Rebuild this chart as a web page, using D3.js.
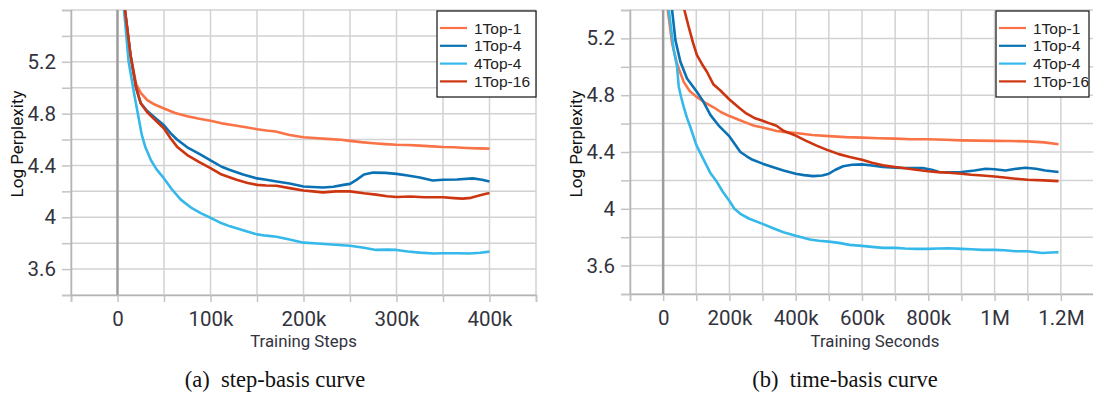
<!DOCTYPE html>
<html>
<head>
<meta charset="utf-8">
<script src="https://cdn.jsdelivr.net/npm/d3@7"></script>
<style>
  body { margin: 0; background: #fff; }
  svg { display: block; }
</style>
</head>
<body>
<svg id="chart" width="1093" height="394"></svg>
<script>
// series names and colours
const seriesNames = ["1Top-1", "1Top-4", "4Top-4", "1Top-16"];
const seriesColors = ["#fa7347", "#0a72b4", "#35b8ea", "#cc3510"];

// step-basis curves: [training steps (k), log perplexity]
const stepTop1 = [[3, 6.4], [8, 5.6], [14, 5.25], [20, 5.03], [25, 4.96], [32, 4.905], [40, 4.87], [50, 4.84], [62, 4.805], [75, 4.78], [88, 4.76], [100, 4.745], [112, 4.725], [125, 4.71], [138, 4.695], [150, 4.68], [160, 4.67], [170, 4.662], [185, 4.635], [200, 4.618], [212, 4.612], [225, 4.605], [240, 4.598], [250, 4.59], [262, 4.58], [275, 4.572], [288, 4.565], [300, 4.56], [312, 4.558], [325, 4.553], [338, 4.547], [350, 4.542], [362, 4.54], [375, 4.535], [388, 4.532], [400, 4.53]];
const stepTop4 = [[3, 6.4], [8, 5.6], [14, 5.25], [20, 5.0], [25, 4.88], [32, 4.82], [40, 4.77], [50, 4.71], [57, 4.65], [64, 4.6], [75, 4.54], [88, 4.49], [100, 4.44], [112, 4.39], [121, 4.365], [135, 4.33], [150, 4.3], [160, 4.29], [171, 4.276], [185, 4.26], [200, 4.238], [210, 4.234], [221, 4.23], [232, 4.236], [243, 4.25], [250, 4.258], [257, 4.289], [265, 4.33], [275, 4.345], [288, 4.343], [300, 4.335], [312, 4.322], [325, 4.307], [339, 4.284], [350, 4.29], [365, 4.292], [382, 4.3], [392, 4.29], [400, 4.276]];
const stepFour4 = [[3, 6.6], [7, 5.6], [12, 5.2], [18, 4.95], [26, 4.64], [30, 4.54], [36, 4.44], [42, 4.37], [50, 4.3], [58, 4.22], [68, 4.136], [80, 4.07], [90, 4.03], [100, 3.996], [110, 3.96], [121, 3.93], [135, 3.9], [150, 3.868], [160, 3.858], [171, 3.85], [185, 3.828], [200, 3.804], [215, 3.798], [230, 3.79], [250, 3.78], [265, 3.765], [278, 3.748], [290, 3.75], [300, 3.748], [312, 3.736], [325, 3.727], [340, 3.72], [350, 3.722], [365, 3.722], [378, 3.72], [390, 3.726], [400, 3.735]];
const stepTop16 = [[3, 6.4], [8, 5.6], [14, 5.25], [20, 5.0], [25, 4.88], [32, 4.81], [40, 4.755], [50, 4.685], [57, 4.61], [64, 4.545], [75, 4.48], [88, 4.425], [100, 4.38], [112, 4.33], [128, 4.29], [140, 4.265], [150, 4.25], [160, 4.245], [171, 4.243], [185, 4.225], [200, 4.207], [210, 4.2], [221, 4.192], [235, 4.2], [250, 4.2], [265, 4.185], [278, 4.175], [290, 4.162], [300, 4.157], [315, 4.16], [330, 4.155], [350, 4.154], [362, 4.148], [371, 4.144], [380, 4.15], [386, 4.162], [393, 4.175], [400, 4.187]];

// time-basis curves: [training seconds (k), log perplexity]
const timeTop1 = [[5, 6.2], [14, 5.4], [27, 5.165], [42, 5.02], [62, 4.894], [80, 4.83], [100, 4.79], [125, 4.75], [152, 4.715], [175, 4.68], [200, 4.653], [230, 4.625], [252, 4.605], [275, 4.585], [300, 4.572], [343, 4.548], [370, 4.54], [400, 4.534], [450, 4.52], [500, 4.512], [550, 4.505], [600, 4.501], [650, 4.497], [700, 4.494], [750, 4.49], [800, 4.49], [850, 4.486], [900, 4.482], [950, 4.48], [1000, 4.478], [1050, 4.477], [1100, 4.475], [1150, 4.468], [1193, 4.454]];
const timeTop4 = [[10, 6.2], [27, 5.4], [37, 5.188], [52, 5.035], [72, 4.918], [100, 4.83], [120, 4.76], [143, 4.66], [170, 4.58], [200, 4.51], [233, 4.4], [252, 4.37], [270, 4.345], [300, 4.318], [330, 4.295], [363, 4.27], [400, 4.247], [425, 4.237], [453, 4.23], [480, 4.235], [500, 4.247], [520, 4.275], [543, 4.3], [570, 4.31], [600, 4.313], [630, 4.305], [663, 4.294], [700, 4.29], [723, 4.287], [783, 4.287], [810, 4.275], [833, 4.259], [870, 4.257], [900, 4.259], [940, 4.27], [973, 4.282], [1000, 4.278], [1033, 4.27], [1060, 4.28], [1093, 4.289], [1125, 4.282], [1153, 4.27], [1193, 4.259]];
const timeFour4 = [[8, 6.2], [17, 5.4], [25, 5.25], [32, 5.118], [42, 5.0], [47, 4.86], [55, 4.78], [62, 4.718], [72, 4.64], [82, 4.576], [100, 4.45], [115, 4.38], [132, 4.3], [143, 4.25], [162, 4.19], [180, 4.12], [200, 4.055], [215, 4.0], [233, 3.965], [260, 3.93], [300, 3.894], [330, 3.865], [363, 3.835], [400, 3.81], [443, 3.784], [470, 3.775], [500, 3.769], [530, 3.76], [563, 3.746], [600, 3.739], [630, 3.732], [663, 3.725], [700, 3.725], [730, 3.72], [763, 3.718], [800, 3.718], [830, 3.72], [863, 3.722], [900, 3.718], [930, 3.715], [963, 3.711], [1000, 3.711], [1030, 3.708], [1063, 3.701], [1100, 3.701], [1143, 3.689], [1170, 3.692], [1193, 3.694]];
const timeTop16 = [[40, 6.2], [64, 5.4], [77, 5.282], [90, 5.17], [102, 5.082], [117, 5.02], [132, 4.965], [152, 4.875], [172, 4.835], [200, 4.77], [230, 4.71], [252, 4.67], [275, 4.64], [300, 4.62], [323, 4.6], [342, 4.585], [363, 4.55], [400, 4.515], [430, 4.48], [463, 4.445], [500, 4.41], [530, 4.385], [563, 4.365], [600, 4.346], [630, 4.325], [663, 4.306], [700, 4.294], [730, 4.285], [763, 4.275], [800, 4.264], [830, 4.258], [863, 4.254], [900, 4.247], [930, 4.24], [963, 4.235], [1000, 4.228], [1030, 4.22], [1063, 4.212], [1100, 4.205], [1150, 4.2], [1193, 4.195]];

// tick values
const stepTickLabels = [0, 100, 200, 300, 400];
const timeTickLabels = [0, 200, 400, 600, 800, 1000, 1200];
const yTickLabels = [3.6, 4, 4.4, 4.8, 5.2];

const svg = d3.select("#chart");

// format thousands as k / M
function fmtK(v) {
  if (v === 0) return "0";
  if (v >= 1000) return (v / 1000) + "M";
  return v + "k";
}

function drawPanel(cfg) {
  const x = d3.scaleLinear().domain(cfg.xDomain).range([cfg.left, cfg.right]);
  const y = d3.scaleLinear().domain(cfg.yDomain).range([cfg.bottom, cfg.top]);
  const g = svg.append("g");

  const xGrid = d3.range(cfg.xDomain[0], cfg.xDomain[1] + 1, cfg.xStep);
  const yGrid = d3.range(cfg.yDomain[0], cfg.yDomain[1] + 0.01, 0.2).map(v => +v.toFixed(1));

  // grid lines
  g.selectAll(".hgrid").data(yGrid).join("line")
    .attr("x1", cfg.left).attr("x2", cfg.right)
    .attr("y1", d => y(d)).attr("y2", d => y(d))
    .attr("stroke", "#d2d2d2").attr("stroke-width", 1.5);
  g.selectAll(".vgrid").data(xGrid).join("line")
    .attr("x1", d => x(d)).attr("x2", d => x(d))
    .attr("y1", cfg.top).attr("y2", cfg.bottom)
    .attr("stroke", d => d === 0 ? "#9c9c9c" : "#d2d2d2")
    .attr("stroke-width", d => d === 0 ? 2.5 : 1.5);

  // axes
  const xAxis = d3.axisBottom(x).tickValues(xGrid).tickSize(7).tickPadding(9)
    .tickFormat(d => cfg.xLabels.includes(d) ? fmtK(d) : "");
  const ax = g.append("g").attr("transform", `translate(0,${cfg.bottom})`).call(xAxis);
  const yAxis = d3.axisLeft(y).tickValues(yGrid).tickSize(9).tickPadding(6)
    .tickFormat(d => yTickLabels.includes(d) ? d3.format("")(d) : "");
  const ay = g.append("g").attr("transform", `translate(${cfg.left},0)`).call(yAxis);

  [ax, ay].forEach(a => {
    a.select(".domain").attr("stroke", "#b4b4b4").attr("stroke-width", 1.5);
    a.selectAll(".tick line").attr("stroke", "#c4c4c4").attr("stroke-width", 1.5);
    a.selectAll(".tick text")
      .attr("font-family", "Roboto, sans-serif").attr("font-size", 20.5)
      .attr("fill", "#33333d");
  });

  // curves
  const clipId = "clip-" + cfg.name;
  g.append("clipPath").attr("id", clipId).append("rect")
    .attr("x", cfg.left).attr("y", cfg.top)
    .attr("width", cfg.right - cfg.left).attr("height", cfg.bottom - cfg.top);
  const line = d3.line().x(d => x(d[0])).y(d => y(d[1]));
  g.append("g").attr("clip-path", `url(#${clipId})`)
    .selectAll("path").data(cfg.series).join("path")
    .attr("d", line)
    .attr("fill", "none")
    .attr("stroke", (d, i) => seriesColors[i])
    .attr("stroke-width", 2.6)
    .attr("stroke-linejoin", "round");

  // axis titles
  g.append("text")
    .attr("x", (cfg.left + cfg.right) / 2 + cfg.titleShift).attr("y", 347)
    .attr("text-anchor", "middle")
    .attr("font-family", "Roboto, sans-serif").attr("font-size", 16.8)
    .attr("fill", "#33333d")
    .text(cfg.xTitle);
  g.append("text")
    .attr("transform", `translate(${cfg.left - 48},144) rotate(-90)`)
    .attr("text-anchor", "middle")
    .attr("font-family", "Roboto, sans-serif").attr("font-size", 17)
    .attr("fill", "#111")
    .text("Log Perplexity");

  // legend
  const lg = g.append("g").attr("transform", `translate(${cfg.legendX},11)`);
  lg.append("rect").attr("width", cfg.legendW).attr("height", 86)
    .attr("fill", "#fff").attr("stroke", "#111").attr("stroke-width", 1.2);
  seriesNames.forEach((name, i) => {
    const yy = 17 + i * 17.8;
    lg.append("line").attr("x1", 3).attr("x2", 30).attr("y1", yy).attr("y2", yy)
      .attr("stroke", seriesColors[i]).attr("stroke-width", 2.2);
    lg.append("text").attr("x", 37).attr("y", yy + 5.5)
      .attr("font-family", "'Liberation Sans', Arial, sans-serif").attr("font-size", 15.5)
      .attr("fill", "#222").text(name);
  });

  // caption
  g.append("text")
    .attr("x", cfg.captionX).attr("y", 387)
    .attr("text-anchor", "middle")
    .attr("font-family", "'Liberation Serif', 'Times New Roman', serif").attr("font-size", 22.5)
    .attr("fill", "#111")
    .attr("xml:space", "preserve")
    .text(cfg.caption);
}

drawPanel({
  name: "step", left: 71, right: 536, top: 10, bottom: 295,
  xDomain: [-50, 450], xStep: 50, yDomain: [3.4, 5.6],
  xLabels: stepTickLabels, xTitle: "Training Steps", titleShift: 0,
  series: [stepTop1, stepTop4, stepFour4, stepTop16],
  legendX: 437, legendW: 99, captionX: 275, caption: "(a)  step-basis curve"
});

drawPanel({
  name: "time", left: 630, right: 1094, top: 10, bottom: 294,
  xDomain: [-100, 1300], xStep: 100, yDomain: [3.4, 5.4],
  xLabels: timeTickLabels, xTitle: "Training Seconds", titleShift: 13,
  series: [timeTop1, timeTop4, timeFour4, timeTop16],
  legendX: 996, legendW: 93, captionX: 845, caption: "(b)  time-basis curve"
});
</script>
</body>
</html>
